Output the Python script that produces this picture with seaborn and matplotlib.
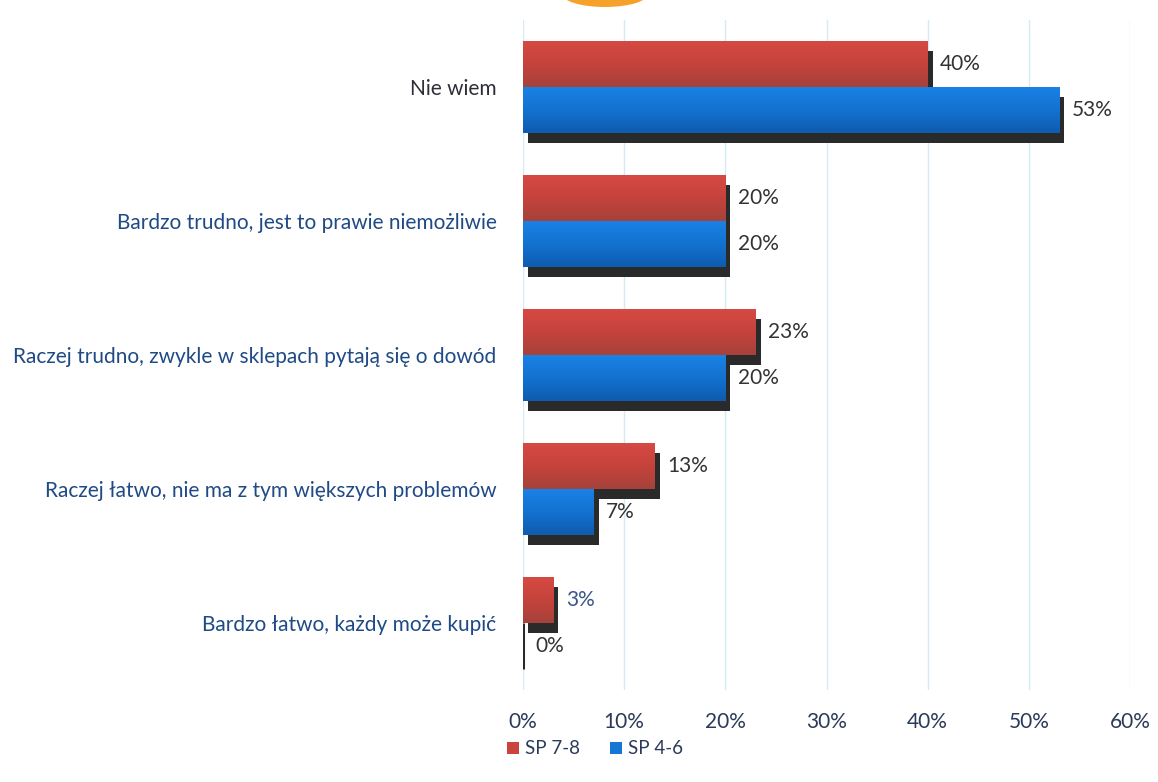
import matplotlib
matplotlib.use("Agg")
import matplotlib.pyplot as plt
import seaborn as sns
import pandas as pd
import numpy as np
from matplotlib import patheffects as pe
from matplotlib.patches import Ellipse
from matplotlib.colors import LinearSegmentedColormap

# ---- data ----
categories = [
    "Nie wiem",
    "Bardzo trudno, jest to prawie niemożliwie",
    "Raczej trudno, zwykle w sklepach pytają się o dowód",
    "Raczej łatwo, nie ma z tym większych problemów",
    "Bardzo łatwo, każdy może kupić",
]
series_names = ["SP 7-8", "SP 4-6"]
sp78 = [40, 20, 23, 13, 3]
sp46 = [53, 20, 20, 7, 0]
xtick_values = [0, 10, 20, 30, 40, 50, 60]
xtick_labels = ["0%", "10%", "20%", "30%", "40%", "50%", "60%"]

df = pd.DataFrame({
    "kategoria": categories * 2,
    "grupa": [series_names[0]] * len(categories) + [series_names[1]] * len(categories),
    "wartosc": sp78 + sp46,
})

colors = {"SP 7-8": "#c9443d", "SP 4-6": "#1676d6"}
grad = {
    "SP 7-8": ["#d64a43", "#c6433c", "#a5423b"],
    "SP 4-6": ["#1a82e6", "#1372d0", "#0e5caf"],
}

sns.set_theme(style="white")
plt.rcParams["font.family"] = ["Lato", "DejaVu Sans"]
FS = 15

W, H = 1158, 782
fig = plt.figure(figsize=(W / 100, H / 100), dpi=100)
fig.patch.set_facecolor("white")
ax = fig.add_axes([523 / W, 1 - 690 / H, 607 / W, 670 / H])

sns.barplot(
    data=df, y="kategoria", x="wartosc", hue="grupa",
    order=categories, hue_order=series_names, palette=colors,
    orient="h", width=0.69, saturation=1, ax=ax, legend=True,
    linewidth=0, edgecolor="none",
)

# shadows and gradient fill
for cont, name in zip(ax.containers, series_names):
    cmap = LinearSegmentedColormap.from_list(name, grad[name])
    for patch in cont.patches:
        patch.set_linewidth(0)
        patch.set_path_effects([
            pe.SimplePatchShadow(offset=(3.6, -7.2), shadow_rgbFace="#2a2a2a", alpha=1.0),
            pe.Normal(),
        ])
        x0, y0 = patch.get_x(), patch.get_y()
        w, h = patch.get_width(), patch.get_height()
        if w > 0:
            g = np.linspace(0, 1, 64).reshape(-1, 1)
            im = ax.imshow(g, extent=(x0, x0 + w, y0 + h, y0), cmap=cmap,
                           aspect="auto", zorder=patch.get_zorder() + 0.01,
                           origin="upper")
            im.set_clip_path(patch)
        else:
            patch.set_edgecolor("#2a2a2a")
            patch.set_linewidth(2.2)

ax.set_xlim(0, 60)
ax.set_ylim(len(categories) - 0.5, -0.5)

# value labels
label_colors = [["#333333"] * 4 + ["#3a5688"], ["#333333"] * 5]
for cont, vals, cols in zip(ax.containers, [sp78, sp46], label_colors):
    texts = ax.bar_label(cont, labels=[f"{v}%" for v in vals], padding=9,
                         fontsize=FS, color="#333333")
    for t, c in zip(texts, cols):
        t.set_color(c)

# axes styling
ax.set_xticks(xtick_values)
ax.set_xticklabels(xtick_labels)
ax.set_xlabel("")
ax.set_ylabel("")
for s in ax.spines.values():
    s.set_visible(False)
ax.grid(axis="x", color="#d5eaf2", linewidth=1.0)
ax.grid(axis="y", visible=False)
ax.set_axisbelow(True)
ax.tick_params(axis="x", length=0, pad=16, labelsize=FS, labelcolor="#2b3a58")
ax.tick_params(axis="y", length=0, pad=19, labelsize=FS)
for i, t in enumerate(ax.get_yticklabels()):
    t.set_color("#2e2e38" if i == 0 else "#1f4a85")

# legend
handles, labels = ax.get_legend_handles_labels()
ax.legend(handles, labels, loc="center left",
          bbox_to_anchor=(490 / W, 1 - 749 / H), bbox_transform=fig.transFigure,
          ncol=2, frameon=False, handlelength=0.65, handleheight=0.65,
          handletextpad=0.3, columnspacing=1.6, fontsize=13.5,
          labelcolor="#2b3a58")

# decorative orange arc at top
fig.patches.append(Ellipse((605 / W, 1 + 6 / H), 86 / W, 26 / H,
                           transform=fig.transFigure, facecolor="#f5a12a",
                           edgecolor="none", zorder=0))

fig.savefig("out.png", dpi=100, facecolor="white")
